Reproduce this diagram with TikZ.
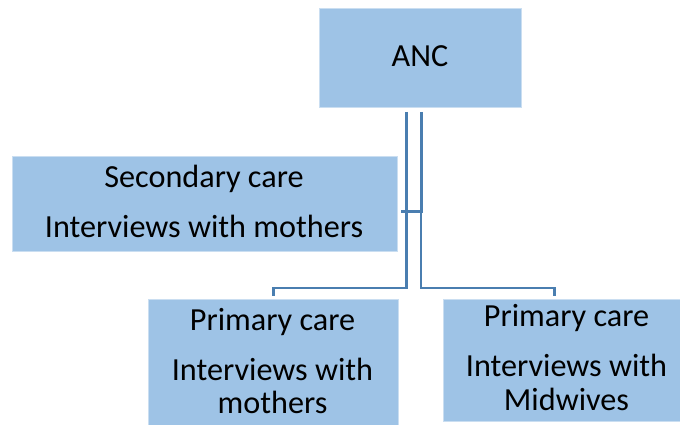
\documentclass[tikz,border=0pt]{standalone}
\usepackage{fontspec}
\setmainfont{Carlito}
\definecolor{boxblue}{RGB}{158,195,230}
\definecolor{linkblue}{RGB}{74,126,176}
\begin{document}
\begin{tikzpicture}[x=1pt,y=-1pt,
  box/.style={rectangle, fill=boxblue, draw=boxblue!55!white, line width=0.8pt,
    inner sep=0pt, anchor=north west},
  txt/.style={anchor=base, inner sep=0pt, font=\fontsize{32.2}{36}\selectfont},
  conn/.style={draw=linkblue, line width=2.4pt},
  connthick/.style={draw=linkblue, line width=3.4pt}]
  \useasboundingbox (0,0) rectangle (680,425);

  % boxes
  \node[box, minimum width=202pt, minimum height=99pt] (anc) at (319,8.5) {};
  \node[box, minimum width=385pt, minimum height=95pt] (sec) at (12,156) {};
  \node[box, minimum width=250pt, minimum height=130pt] (pl) at (148,299) {};
  \node[box, minimum width=240pt, minimum height=122pt] (pr) at (443,299) {};

  % labels
  \node[txt] (ancT) at (420,66.5) {ANC};
  \node[txt] (secT1) at (204,187) {Secondary care};
  \node[txt] (secT2) at (204,237.5) {Interviews with mothers};
  \node[txt] (plT1) at (272.5,330) {Primary care};
  \node[txt] (plT2) at (272.5,380) {Interviews with};
  \node[txt] (plT3) at (272.5,413) {mothers};
  \node[txt] (prT1) at (566.5,326.5) {Primary care};
  \node[txt] (prT2) at (566.5,376) {Interviews with};
  \node[txt] (prT3) at (566.5,410.5) {Midwives};

  % junction points
  \coordinate (tick) at ([xshift=3.5pt,yshift=-7.5pt]sec.east);

  % connector to the left primary-care box
  \draw[conn] ([xshift=-14pt,yshift=-3.5pt]anc.south) |- ([yshift=11pt]pl.north)
    -- ([yshift=3pt]pl.north);
  % connector to the right primary-care box
  \draw[conn] ([xshift=0.8pt,yshift=-3.5pt]anc.south) |- ([xshift=-9pt,yshift=11pt]pr.north)
    -- ([xshift=-9pt,yshift=3pt]pr.north);
  % connector to the secondary-care box
  \draw[connthick] ([xshift=0.8pt,yshift=-3.5pt]anc.south) |- (tick);
\end{tikzpicture}
\end{document}
